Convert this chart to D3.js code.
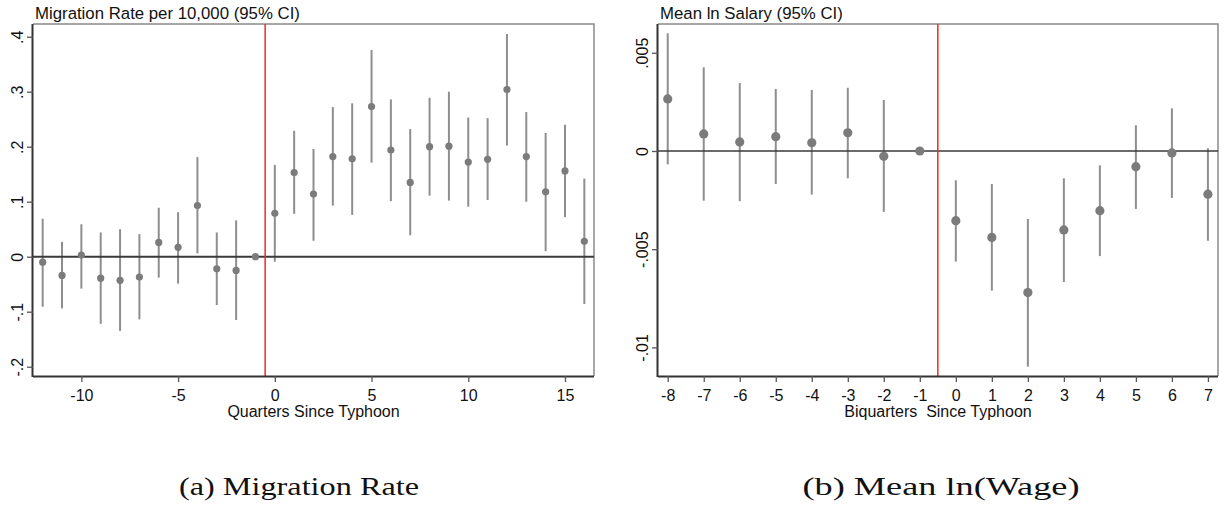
<!DOCTYPE html>
<html>
<head>
<meta charset="utf-8">
<script src="https://cdn.jsdelivr.net/npm/d3@7"></script>
<style>
  html, body { margin: 0; padding: 0; background: #fff; }
  svg { display: block; }
  text { font-family: "Liberation Sans", Arial, sans-serif; fill: #111; }
  .caption { font-family: "Liberation Serif", "Times New Roman", serif; }
</style>
</head>
<body>
<svg id="chart" width="1224" height="506"></svg>
<script>
// Panel (a): migration rate per 10,000, event-study estimates by quarter
const migQuarters = [-12, -11, -10, -9, -8, -7, -6, -5, -4, -3, -2, -1, 0, 1, 2, 3, 4, 5, 6, 7, 8, 9, 10, 11, 12, 13, 14, 15, 16];
const migEst = [-0.010, -0.034, 0.003, -0.039, -0.043, -0.037, 0.026, 0.017, 0.093, -0.022, -0.025, 0, 0.079, 0.153, 0.114, 0.182, 0.178, 0.273, 0.194, 0.135, 0.200, 0.201, 0.172, 0.177, 0.304, 0.182, 0.118, 0.156, 0.028];
const migLo = [-0.091, -0.094, -0.058, -0.122, -0.135, -0.114, -0.038, -0.049, 0.006, -0.088, -0.115, null, -0.009, 0.078, 0.029, 0.093, 0.076, 0.171, 0.101, 0.039, 0.111, 0.102, 0.091, 0.103, 0.202, 0.100, 0.010, 0.072, -0.086];
const migHi = [0.069, 0.027, 0.059, 0.044, 0.050, 0.041, 0.089, 0.081, 0.181, 0.044, 0.066, null, 0.167, 0.229, 0.196, 0.272, 0.279, 0.376, 0.286, 0.232, 0.289, 0.300, 0.253, 0.252, 0.405, 0.263, 0.225, 0.240, 0.142];
const migXTicks = [-10, -5, 0, 5, 10, 15];
const migXLabels = ["-10", "-5", "0", "5", "10", "15"];
const migYTicks = [-0.2, -0.1, 0, 0.1, 0.2, 0.3, 0.4];
const migYLabels = ["-.2", "-.1", "0", ".1", ".2", ".3", ".4"];

// Panel (b): mean ln salary, event-study estimates by biquarter
const wageBiquarters = [-8, -7, -6, -5, -4, -3, -2, -1, 0, 1, 2, 3, 4, 5, 6, 7];
const wageEst = [0.00265, 0.00087, 0.00046, 0.00073, 0.00042, 0.00093, -0.00027, 0, -0.00355, -0.00440, -0.00721, -0.00402, -0.00304, -0.00080, -0.00010, -0.00220];
const wageLo = [-0.00068, -0.00253, -0.00255, -0.00168, -0.00222, -0.00139, -0.00310, null, -0.00563, -0.00711, -0.01098, -0.00667, -0.00535, -0.00295, -0.00239, -0.00457];
const wageHi = [0.00599, 0.00426, 0.00346, 0.00316, 0.00311, 0.00322, 0.00260, null, -0.00149, -0.00168, -0.00346, -0.00139, -0.00073, 0.00131, 0.00217, 0.00014];
const wageXTicks = [-8, -7, -6, -5, -4, -3, -2, -1, 0, 1, 2, 3, 4, 5, 6, 7];
const wageXLabels = ["-8", "-7", "-6", "-5", "-4", "-3", "-2", "-1", "0", "1", "2", "3", "4", "5", "6", "7"];
const wageYTicks = [-0.01, -0.005, 0, 0.005];
const wageYLabels = ["-.01", "-.005", "0", ".005"];

const svg = d3.select("#chart");
const FONT = "Liberation Sans, Arial, sans-serif";

function drawPanel(cfg) {
  const x = d3.scaleLinear().domain(cfg.xDomain).range([cfg.left, cfg.right]);
  const y = d3.scaleLinear().domain(cfg.yDomain).range([cfg.bottom, cfg.top]);
  const g = svg.append("g");

  // top and right frame
  g.append("path")
    .attr("d", `M${cfg.left},${cfg.top}H${cfg.right}V${cfg.bottom}`)
    .attr("fill", "none").attr("stroke", "#8a8a8a").attr("stroke-width", 1.5);

  // confidence intervals
  const rows = cfg.xs.map((v, i) => ({ x: v, est: cfg.est[i], lo: cfg.lo[i], hi: cfg.hi[i] }));
  g.selectAll("line.ci").data(rows.filter(d => d.lo !== null)).join("line")
    .attr("class", "ci")
    .attr("x1", d => x(d.x)).attr("x2", d => x(d.x))
    .attr("y1", d => y(d.lo)).attr("y2", d => y(d.hi))
    .attr("stroke", "#8e8e8e").attr("stroke-width", 2);

  // zero reference line
  g.append("line")
    .attr("x1", cfg.left).attr("x2", cfg.right)
    .attr("y1", y(0)).attr("y2", y(0))
    .attr("stroke", "#3a3a3a").attr("stroke-width", cfg.zeroWidth);

  // typhoon onset
  g.append("line")
    .attr("x1", x(-0.5)).attr("x2", x(-0.5))
    .attr("y1", cfg.top).attr("y2", cfg.bottom)
    .attr("stroke", "#ee2a2a").attr("stroke-width", 1.5);

  // point estimates
  g.selectAll("circle").data(rows).join("circle")
    .attr("cx", d => x(d.x)).attr("cy", d => y(d.est))
    .attr("r", cfg.r).attr("fill", "#7b7b7b");

  // axes
  const xAxis = d3.axisBottom(x).tickValues(cfg.xTicks).tickSize(6).tickPadding(8)
    .tickFormat((d, i) => cfg.xLabels[i]);
  const gx = g.append("g").attr("transform", `translate(0,${cfg.bottom})`).call(xAxis);
  gx.select(".domain").attr("stroke", "#333").attr("stroke-width", 2)
    .attr("d", `M${cfg.left},0.5H${cfg.right}`);
  gx.selectAll(".tick line").attr("stroke", "#555").attr("stroke-width", 1.3);
  gx.selectAll(".tick text").attr("font-size", 16).attr("fill", "#111")
    .attr("font-family", FONT);

  const yAxis = d3.axisLeft(y).tickValues(cfg.yTicks).tickSize(6).tickFormat((d, i) => cfg.yLabels[i]);
  const gy = g.append("g").attr("transform", `translate(${cfg.left},0)`).call(yAxis);
  gy.select(".domain").attr("stroke", "#333").attr("stroke-width", 2)
    .attr("d", `M-0.5,${cfg.top}V${cfg.bottom + 1}`);
  gy.selectAll(".tick line").attr("stroke", "#555").attr("stroke-width", 1.3);
  gy.selectAll(".tick text")
    .attr("x", 0).attr("dy", null).attr("y", 0)
    .attr("transform", `translate(${cfg.yLabelX},0) rotate(-90)`)
    .attr("text-anchor", "middle")
    .attr("font-size", 16).attr("fill", "#111")
    .attr("font-family", FONT);

  // titles
  g.append("text").attr("x", cfg.left + 2).attr("y", 18.5)
    .attr("font-size", 16.8).text(cfg.title);
  g.append("text").attr("x", (cfg.left + cfg.right) / 2).attr("y", 416.5)
    .attr("text-anchor", "middle").attr("font-size", 16)
    .attr("xml:space", "preserve").style("white-space", "pre")
    .text(cfg.xTitle);
  g.append("text").attr("class", "caption")
    .attr("x", cfg.captionX).attr("y", 495)
    .attr("text-anchor", "middle").attr("font-size", 25)
    .attr("textLength", cfg.captionW).attr("lengthAdjust", "spacingAndGlyphs")
    .text(cfg.caption);
}

drawPanel({
  xs: migQuarters, est: migEst, lo: migLo, hi: migHi,
  xDomain: [-12.5, 16.5], yDomain: [-0.2169, 0.4231],
  left: 33, right: 594, top: 24, bottom: 376,
  xTicks: migXTicks, xLabels: migXLabels, yTicks: migYTicks, yLabels: migYLabels, yLabelX: -10,
  r: 3.6, zeroWidth: 2,
  title: "Migration Rate per 10,000 (95% CI)",
  xTitle: "Quarters Since Typhoon",
  caption: "(a) Migration Rate", captionX: 299, captionW: 240
});

drawPanel({
  xs: wageBiquarters, est: wageEst, lo: wageLo, hi: wageHi,
  xDomain: [-8.27, 7.28], yDomain: [-0.011456, 0.006466],
  left: 658, right: 1218, top: 24, bottom: 376,
  xTicks: wageXTicks, xLabels: wageXLabels, yTicks: wageYTicks, yLabels: wageYLabels, yLabelX: -10,
  r: 4.6, zeroWidth: 1.6,
  title: "Mean ln Salary (95% CI)",
  xTitle: "Biquarters  Since Typhoon",
  caption: "(b) Mean ln(Wage)", captionX: 941, captionW: 277
});
</script>
</body>
</html>
